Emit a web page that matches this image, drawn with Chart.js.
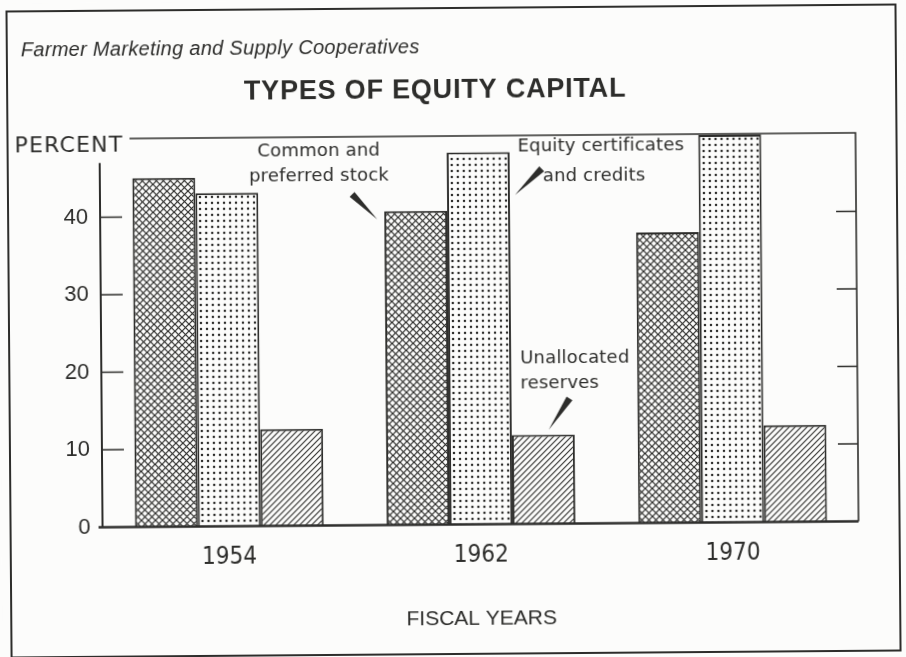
<!DOCTYPE html>
<html>
<head>
<meta charset="utf-8">
<script src="https://cdn.jsdelivr.net/npm/chart.js@4.4.1/dist/chart.umd.min.js"></script>
<style>
  html, body { margin: 0; padding: 0; background: #fcfcfb; overflow: hidden; }
  #wrap { width: 906px; height: 657px; }
  #equityChart { transform: rotate(-0.45deg); }
</style>
</head>
<body>
<div id="wrap"><canvas id="equityChart" width="906" height="657"></canvas></div>
<script>
// data (percent of equity capital)
const years = ['1954', '1962', '1970'];
const commonStock = [45, 40.5, 37.5];
const equityCerts = [43, 48, 50];
const unallocated = [12.5, 11.5, 12.5];
const yTickValues = [0, 10, 20, 30, 40];

const INK = '#2d2d2b';
const PAPER = '#fcfcfb';

var canvas = document.getElementById('equityChart');
var ctx = canvas.getContext('2d');

// fill patterns for the bars
function makePattern(size, draw) {
    var c = document.createElement('canvas');
    c.width = c.height = size;
    var g = c.getContext('2d');
    g.fillStyle = PAPER;
    g.fillRect(0, 0, size, size);
    g.strokeStyle = INK;
    g.fillStyle = INK;
    draw(g, size);
    return ctx.createPattern(c, 'repeat');
}

var crossPattern = makePattern(7, function(g, s) {
    g.lineWidth = 1.2;
    g.beginPath();
    g.moveTo(-1, -1); g.lineTo(s + 1, s + 1);
    g.moveTo(-1, s + 1); g.lineTo(s + 1, -1);
    g.stroke();
});
var dotPattern = makePattern(6, function(g, s) {
    g.beginPath();
    g.arc(3, 3, 1.25, 0, Math.PI * 2);
    g.fill();
});
var hatchPattern = makePattern(6, function(g, s) {
    g.lineWidth = 1.1;
    g.beginPath();
    g.moveTo(-1, s + 1); g.lineTo(s + 1, -1);
    g.moveTo(-1, 1); g.lineTo(1, -1);
    g.moveTo(s - 1, s + 1); g.lineTo(s + 1, s - 1);
    g.stroke();
});

// labels with pointer wedges, placed relative to the 1962 bars
var notes = [
    { ds: 0, idx: 1, lines: ['Common and', 'preferred stock'], align: 'center',
      anchor: 'left', tx: -65, ty: [-60, -35], wedge: [-32, -17, -7, 8] },
    { ds: 1, idx: 1, lines: ['Equity certificates', 'and credits'], align: 'left',
      anchor: 'right', tx: [8, 33], ty: [-5, 25], wedge: [32, 17, 5, 43] },
    { ds: 2, idx: 1, lines: ['Unallocated', 'reserves'], align: 'left',
      anchor: 'left', tx: [9, 9], ty: [-76, -51], wedge: [58, -36, 37, -5] }
];

function drawWedge(c, x1, y1, x2, y2, w) {
    var dx = x2 - x1, dy = y2 - y1;
    var len = Math.sqrt(dx * dx + dy * dy);
    var nx = -dy / len * w / 2, ny = dx / len * w / 2;
    c.beginPath();
    c.moveTo(x1 + nx, y1 + ny);
    c.lineTo(x2, y2);
    c.lineTo(x1 - nx, y1 - ny);
    c.closePath();
    c.fill();
}

var decorPlugin = {
    id: 'decor',
    beforeDraw: function(chart) {
        var c = chart.ctx;
        c.save();
        c.fillStyle = PAPER;
        c.fillRect(0, 0, chart.width, chart.height);
        c.strokeStyle = INK;
        c.lineWidth = 2;
        c.strokeRect(9, 8, 889, 646);
        c.restore();
    },
    afterDatasetsDraw: function(chart) {
        var c = chart.ctx;
        var area = chart.chartArea;
        var y = chart.scales.y;
        c.save();
        c.strokeStyle = INK;
        c.lineCap = 'butt';

        // left axis, base line, top and right frame of the plot
        c.lineWidth = 2;
        c.beginPath();
        c.moveTo(area.left - 1, y.getPixelForValue(47));
        c.lineTo(area.left - 1, area.bottom);
        c.stroke();
        c.lineWidth = 2.5;
        c.beginPath();
        c.moveTo(area.left - 5, area.bottom);
        c.lineTo(area.right, area.bottom);
        c.stroke();
        c.lineWidth = 1.6;
        c.beginPath();
        c.moveTo(131, area.top - 1);
        c.lineTo(area.right, area.top - 1);
        c.lineTo(area.right, area.bottom);
        c.stroke();

        // inward tick marks on both sides
        c.lineWidth = 1.6;
        yTickValues.forEach(function(v) {
            if (v === 0) return;
            var py = y.getPixelForValue(v);
            c.beginPath();
            c.moveTo(area.left - 1, py); c.lineTo(area.left + 21, py);
            c.moveTo(area.right - 20, py); c.lineTo(area.right, py);
            c.stroke();
        });

        // callouts
        c.fillStyle = INK;
        c.font = '18px "DejaVu Sans"';
        c.letterSpacing = '0.2px';
        c.textBaseline = 'middle';
        notes.forEach(function(n) {
            var bar = chart.getDatasetMeta(n.ds).data[n.idx];
            var bx = n.anchor === 'left' ? bar.x - bar.width / 2 : bar.x + bar.width / 2;
            var by = bar.y;
            c.textAlign = n.align;
            n.lines.forEach(function(t, i) {
                var ox = Array.isArray(n.tx) ? n.tx[i] : n.tx;
                c.fillText(t, bx + ox, by + n.ty[i]);
            });
            drawWedge(c, bx + n.wedge[0], by + n.wedge[1], bx + n.wedge[2], by + n.wedge[3], 7);
        });

        // headings
        c.letterSpacing = '0.3px';
        c.textAlign = 'left';
        c.font = 'italic 20px "Liberation Sans"';
        c.fillText('Farmer Marketing and Supply Cooperatives', 23, 47);
        c.textAlign = 'center';
        c.font = 'bold 27px "Liberation Sans"';
        c.letterSpacing = '0.8px';
        c.fillText('TYPES OF EQUITY CAPITAL', 437, 91);
        c.letterSpacing = '1.2px';
        c.textAlign = 'left';
        c.font = '22px "DejaVu Sans"';
        c.fillText('PERCENT', 16, 143);
        c.restore();
    }
};

var equityChart = new Chart(ctx, {
    type: 'bar',
    data: {
        labels: years,
        datasets: [
            { label: 'Common and preferred stock', data: commonStock, backgroundColor: crossPattern },
            { label: 'Equity certificates and credits', data: equityCerts, backgroundColor: dotPattern },
            { label: 'Unallocated reserves', data: unallocated, backgroundColor: hatchPattern }
        ]
    },
    options: {
        responsive: false,
        animation: false,
        layout: { padding: { left: 0, right: 49, top: 137, bottom: 0 } },
        datasets: {
            bar: {
                borderColor: INK,
                borderWidth: 2,
                barPercentage: 1,
                categoryPercentage: 0.75
            }
        },
        scales: {
            x: {
                grid: { display: false, drawTicks: false },
                border: { display: false },
                ticks: {
                    color: INK,
                    padding: 17,
                    font: { family: '"DejaVu Sans Condensed", "Liberation Sans"', size: 24 }
                },
                title: {
                    display: true,
                    text: 'FISCAL YEARS',
                    color: INK,
                    font: { family: '"Liberation Sans"', size: 21 },
                    padding: { top: 0, bottom: 25 }
                },
                afterFit: function(s) { s.height = 132.5; }
            },
            y: {
                min: 0,
                max: 50,
                grid: { display: false, drawTicks: false },
                border: { display: false },
                ticks: {
                    stepSize: 10,
                    color: INK,
                    padding: 13,
                    font: { family: '"Liberation Sans"', size: 22 },
                    callback: function(v) { return yTickValues.indexOf(v) >= 0 ? v : ''; }
                },
                afterFit: function(s) { s.width = 102; }
            }
        },
        plugins: {
            legend: { display: false },
            tooltip: { enabled: false }
        }
    },
    plugins: [decorPlugin]
});
</script>
</body>
</html>
